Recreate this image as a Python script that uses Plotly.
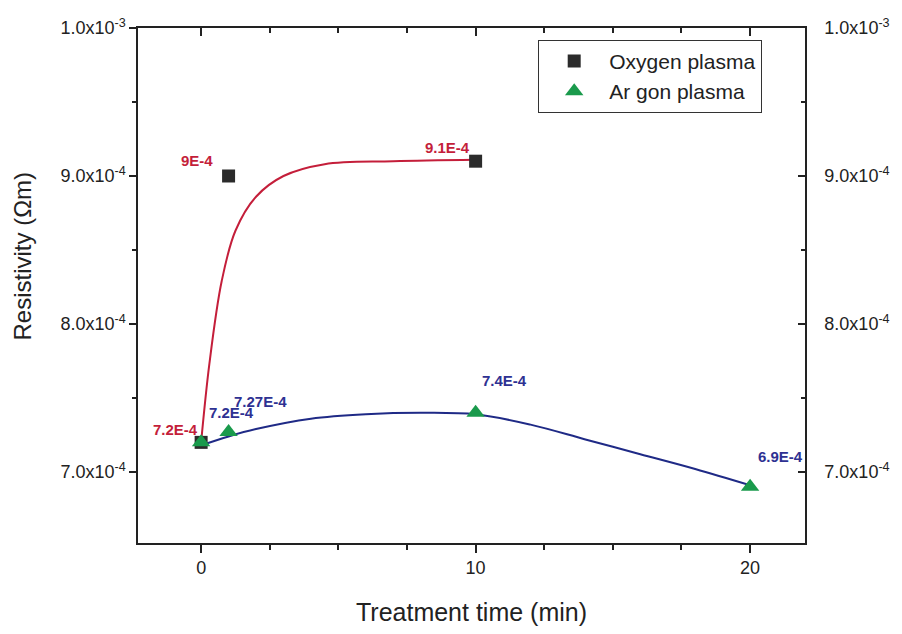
import plotly.graph_objects as go

# ---- data ----
oxygen_time = [0, 1, 10]
oxygen_res = [7.2e-4, 9.0e-4, 9.1e-4]
oxygen_labels = ["7.2E-4", "9E-4", "9.1E-4"]

argon_time = [0, 1, 10, 20]
argon_res = [7.2e-4, 7.27e-4, 7.4e-4, 6.9e-4]
argon_labels = ["7.2E-4", "7.27E-4", "7.4E-4", "6.9E-4"]

# fitted curves
oxygen_fit_time = [0, 0.3, 0.75, 1.25, 2, 3, 4.5, 7, 10]
oxygen_fit_res = [7.2e-4, 7.73e-4, 8.29e-4, 8.63e-4, 8.86e-4, 9.0e-4, 9.08e-4, 9.1e-4, 9.11e-4]

argon_fit_time = [0, 1, 2, 4, 6, 8, 10, 12, 14, 16, 18, 20]
argon_fit_res = [7.18e-4, 7.24e-4, 7.29e-4, 7.36e-4, 7.39e-4, 7.4e-4, 7.39e-4,
                 7.32e-4, 7.22e-4, 7.12e-4, 7.02e-4, 6.91e-4]

x_ticks = [0, 10, 20]
y_ticks = [7.0e-4, 8.0e-4, 9.0e-4, 1.0e-3]
y_tick_text = ["7.0x10<sup>-4</sup>", "8.0x10<sup>-4</sup>", "9.0x10<sup>-4</sup>", "1.0x10<sup>-3</sup>"]
y_minor = [6.5e-4, 7.5e-4, 8.5e-4, 9.5e-4]

FONT = "Arial, Liberation Sans, sans-serif"
RED = "#c41e3a"
BLUE = "#1f2a86"
LBLUE = "#2e3192"
GREEN = "#1a9a4c"

fig = go.Figure()
fig.add_trace(go.Scatter(x=oxygen_fit_time, y=oxygen_fit_res, mode="lines", line=dict(color=RED, width=2, shape="spline"),
                         showlegend=False, hoverinfo="skip"))
fig.add_trace(go.Scatter(x=argon_fit_time, y=argon_fit_res, mode="lines", line=dict(color=BLUE, width=2, shape="spline"),
                         showlegend=False, hoverinfo="skip"))
fig.add_trace(go.Scatter(x=oxygen_time, y=oxygen_res, mode="markers", name="Oxygen plasma",
                         marker=dict(symbol="square", size=13, color="#2b2b2b")))
fig.add_trace(go.Scatter(x=argon_time, y=argon_res, mode="markers", name="Ar gon plasma",
                         marker=dict(symbol="triangle-up", size=16, color=GREEN)))
# empty trace to draw top / right axes
fig.add_trace(go.Scatter(x=[], y=[], xaxis="x2", yaxis="y2", showlegend=False))

# value labels
ox_shift = [(-26, 13), (-32, 15), (-28, 14)]
ar_shift = [(30, 30), (32, 31), (29, 32), (30, 30)]
for xv, yv, t, (dx, dy) in zip(oxygen_time, oxygen_res, oxygen_labels, ox_shift):
    fig.add_annotation(x=xv, y=yv, text=f"<b>{t}</b>", showarrow=False, xshift=dx, yshift=dy,
                       font=dict(family=FONT, size=15, color=RED))
for xv, yv, t, (dx, dy) in zip(argon_time, argon_res, argon_labels, ar_shift):
    fig.add_annotation(x=xv, y=yv, text=f"<b>{t}</b>", showarrow=False, xshift=dx, yshift=dy,
                       font=dict(family=FONT, size=15, color=LBLUE))

# y-axis title (placed as in the reference, slightly above centre)
fig.add_annotation(xref="paper", yref="paper", x=-0.1726, y=0.558, xanchor="center", yanchor="middle",
                   text="Resistivity (Ωm)", textangle=-90,
                   showarrow=False, font=dict(family=FONT, size=24, color="#222"))

x_range = [-2.3, 22]
y_range = [6.52e-4, 1.0e-3]

fig.update_layout(
    width=902, height=634,
    margin=dict(l=138, r=92, t=28, b=86),
    paper_bgcolor="white", plot_bgcolor="white",
    font=dict(family=FONT, size=18, color="#222"),
    xaxis=dict(range=x_range, tickvals=x_ticks, ticks="outside", ticklen=8, tickwidth=1.5, tickcolor="#222",
               showline=True, linecolor="#222", linewidth=1.5, showgrid=False, zeroline=False,
               minor=dict(dtick=2.5, tick0=0, ticks="outside", ticklen=5, tickcolor="#222"),
               title=dict(text="Treatment time (min)", font=dict(size=25), standoff=26),
               tickfont=dict(size=18)),
    xaxis2=dict(range=x_range, overlaying="x", side="top", anchor="y", tickvals=x_ticks, ticks="inside",
                ticklen=8, tickwidth=1.5, tickcolor="#222", showticklabels=False, showline=True,
                linecolor="#222", linewidth=1.5, showgrid=False, zeroline=False,
                minor=dict(dtick=2.5, tick0=0, ticks="inside", ticklen=5, tickcolor="#222")),
    yaxis=dict(range=y_range, tickvals=y_ticks, ticktext=y_tick_text, ticks="outside", ticklen=7, tickwidth=1.5,
               tickcolor="#222", showline=True, linecolor="#222", linewidth=1.5, showgrid=False, zeroline=False,
               minor=dict(tickvals=y_minor, ticks="outside", ticklen=4, tickcolor="#222"),
               tickfont=dict(size=18)),
    yaxis2=dict(range=y_range, overlaying="y", side="right", anchor="x", tickvals=y_ticks, ticktext=y_tick_text,
                ticks="inside", ticklen=7, tickwidth=1.5, tickcolor="#222", showline=True, linecolor="#222",
                linewidth=1.5, showgrid=False, zeroline=False, ticklabelstandoff=14,
                minor=dict(tickvals=y_minor, ticks="inside", ticklen=4, tickcolor="#222"),
                tickfont=dict(size=18)),
    legend=dict(x=0.6, y=0.977, xanchor="left", yanchor="top", bgcolor="white", bordercolor="#333",
                borderwidth=1, font=dict(family=FONT, size=21, color="#222"), tracegroupgap=0,
                itemwidth=60),
    showlegend=True,
)

fig.write_html("out.html")
